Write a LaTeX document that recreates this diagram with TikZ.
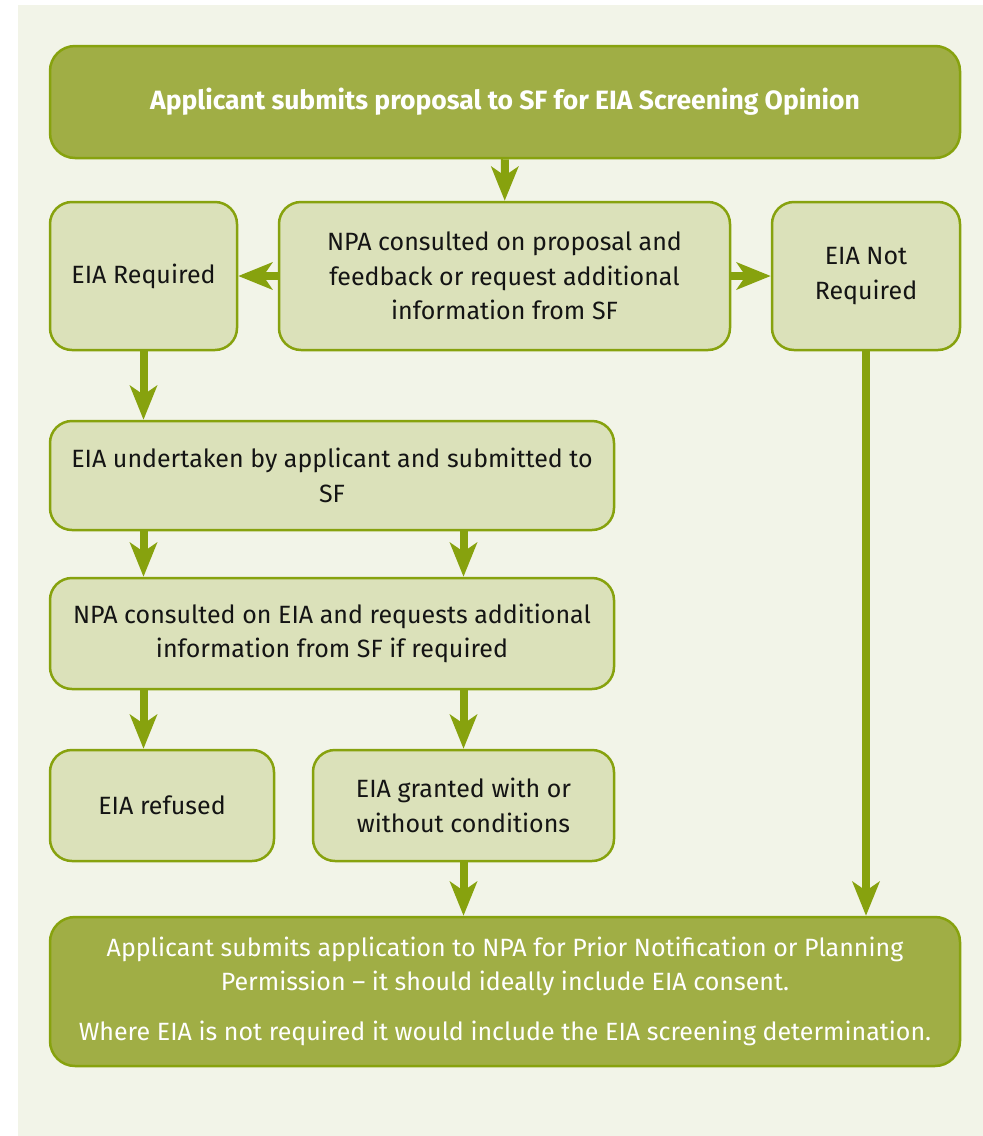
\documentclass[tikz,border=0pt]{standalone}
\usepackage{fontspec}
\setmainfont{Fira Sans}
\usetikzlibrary{arrows.meta,positioning}
\definecolor{pagebg}{HTML}{F2F4E8}
\definecolor{darkfill}{HTML}{A0AE45}
\definecolor{lightfill}{HTML}{DBE1BA}
\definecolor{edgegreen}{HTML}{87A20E}
\tikzset{
  stepbox/.style={draw=edgegreen, line width=2.5pt, fill=lightfill, rounded corners=22pt, align=center, inner sep=0pt, text=black!92, font=\fontsize{25}{34.5}\selectfont},
  headbox/.style={stepbox, fill=darkfill, text=white, rounded corners=25pt},
  flowarrow/.style={-{Stealth[length=34pt, width=27pt, inset=9pt]}, line width=8pt, draw=edgegreen}
}
\begin{document}
\begin{tikzpicture}[x=1pt, y=-1pt]
  \useasboundingbox (0,0) rectangle (983,1136);
  \fill[pagebg] (18,5) rectangle (983,1136);

  \node[headbox, minimum width=910pt, minimum height=112pt, font=\fontsize{26.5}{34.5}\selectfont\bfseries] (screen) at (505,102) {Applicant submits proposal to SF for EIA Screening Opinion};
  \node[stepbox, minimum width=187pt, minimum height=148pt] (req) at (143.5,276) {EIA Required};
  \node[stepbox, minimum width=451pt, minimum height=148pt] (consult) at (504.5,276) {NPA consulted on proposal and\\feedback or request additional\\information from SF};
  \node[stepbox, minimum width=188pt, minimum height=148pt] (notreq) at (866,276) {EIA Not\\Required};
  \node[stepbox, minimum width=564pt, minimum height=109pt] (under) at (332,475.5) {EIA undertaken by applicant and submitted to\\SF};
  \node[stepbox, minimum width=564pt, minimum height=111pt] (review) at (332,633.5) {NPA consulted on EIA and requests additional\\information from SF if required};
  \node[stepbox, minimum width=224pt, minimum height=111pt] (refused) at (162,805.5) {EIA refused};
  \node[stepbox, minimum width=301pt, minimum height=111pt] (granted) at (463.5,805.5) {EIA granted with or\\without conditions};
  \node[headbox, minimum width=910pt, minimum height=149pt] (apply) at (505,991.5) {Applicant submits application to NPA for Prior Notification or Planning\\Permission -- it should ideally include EIA consent.\\[15.5pt]Where EIA is not required it would include the EIA screening determination.};

  \draw[flowarrow] (screen) -- (consult);
  \draw[flowarrow] (consult) -- (req);
  \draw[flowarrow] (consult) -- (notreq);
  \draw[flowarrow] (req.south) -- (req.south |- under.north);
  \draw[flowarrow] (req.south |- under.south) -- (req.south |- review.north);
  \draw[flowarrow] (granted.north |- under.south) -- (granted.north |- review.north);
  \draw[flowarrow] (req.south |- review.south) -- (req.south |- refused.north);
  \draw[flowarrow] (granted.north |- review.south) -- (granted.north);
  \draw[flowarrow] (granted.south) -- (granted.south |- apply.north);
  \draw[flowarrow] (notreq.south) -- (notreq.south |- apply.north);
\end{tikzpicture}
\end{document}
